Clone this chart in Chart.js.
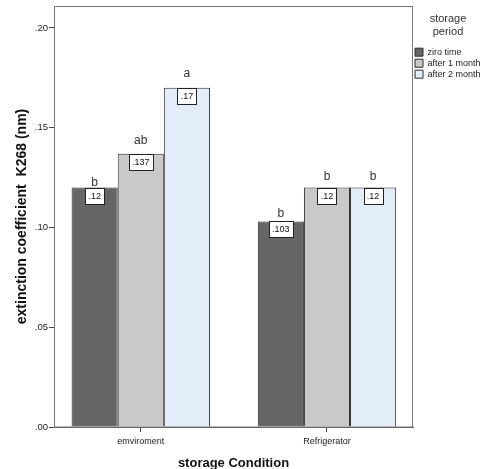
<!DOCTYPE html>
<html>
<head>
<meta charset="utf-8">
<title>storage Condition</title>
<script src="https://cdn.jsdelivr.net/npm/chart.js@4.4.1/dist/chart.umd.min.js"></script>
<style>
  html, body { margin: 0; padding: 0; background: #fff; }
  #wrap { width: 483px; height: 469px; }
</style>
</head>
<body>
<div id="wrap"><canvas id="chart" width="483" height="469"></canvas></div>
<script>
// data
const categories = ['emviroment', 'Refrigerator'];
const seriesNames = ['ziro time', 'after 1 month', 'after 2 month'];
const ziroTime = [0.12, 0.103];
const after1Month = [0.137, 0.12];
const after2Month = [0.17, 0.12];
const ziroLetters = ['b', 'b'];
const after1Letters = ['ab', 'b'];
const after2Letters = ['a', 'b'];
const yTicks = [0, 0.05, 0.10, 0.15, 0.20];

const FONT = 'Arial, "Liberation Sans", sans-serif';
const colors = ['#666666', '#c9c9c9', '#e3edf9'];
const letterSets = [ziroLetters, after1Letters, after2Letters];
// how far each letter sits above its bar (px), per series / category
const letterLift = [[2, 4], [10, 8], [11, 8]];

Chart.defaults.font.family = FONT;
Chart.defaults.color = '#222';

const dotFmt = (v) => String(v).replace(/^0/, '');

const legendWidth = {
  id: 'legendWidth',
  beforeInit(chart) {
    const fit = chart.legend.fit;
    chart.legend.fit = function () {
      fit.call(this);
      this.width = 70;
    };
  }
};

const barLabels = {
  id: 'barLabels',
  afterDatasetsDraw(chart) {
    const ctx = chart.ctx;
    ctx.save();
    chart.data.datasets.forEach((ds, di) => {
      const meta = chart.getDatasetMeta(di);
      meta.data.forEach((bar, i) => {
        const txt = dotFmt(ds.data[i].y);
        ctx.font = '9px ' + FONT;
        const w = Math.round(ctx.measureText(txt).width) + 6;
        const x0 = Math.round(bar.x - w / 2) + 0.5;
        const y0 = Math.round(bar.y) + 0.5;
        ctx.fillStyle = '#fff';
        ctx.fillRect(x0, y0, w, 16);
        ctx.strokeStyle = '#222';
        ctx.lineWidth = 1;
        ctx.strokeRect(x0, y0, w, 16);
        ctx.fillStyle = '#111';
        ctx.textAlign = 'center';
        ctx.textBaseline = 'middle';
        ctx.fillText(txt, bar.x, y0 + 8.5);

        ctx.font = '12px ' + FONT;
        ctx.fillStyle = '#333';
        ctx.textBaseline = 'alphabetic';
        ctx.fillText(letterSets[di][i], bar.x, bar.y - letterLift[di][i]);
      });
    });
    const a = chart.chartArea;
    ctx.strokeStyle = '#777';
    ctx.lineWidth = 1;
    ctx.strokeRect(a.left + 0.5, a.top + 0.5, a.right - a.left - 1, a.bottom - a.top - 0.5);
    ctx.restore();
  }
};

const series = [ziroTime, after1Month, after2Month];

new Chart(document.getElementById('chart'), {
  type: 'bar',
  data: {
    datasets: series.map((vals, si) => ({
      label: seriesNames[si],
      data: vals.map((v, i) => ({ x: i, y: v })),
      backgroundColor: colors[si],
      borderColor: '#2a2a2a',
      borderWidth: 1,
      categoryPercentage: 0.743,
      barPercentage: 1
    }))
  },
  options: {
    responsive: false,
    animation: false,
    layout: { padding: { top: 6, left: 0, right: 0, bottom: 0 } },
    scales: {
      x: {
        type: 'linear',
        min: -0.466,
        max: 1.462,
        offset: false,
        afterBuildTicks: (scale) => { scale.ticks = categories.map((c, i) => ({ value: i })); },
        afterFit: (scale) => { scale.height = 42; },
        ticks: {
          callback: (v) => categories[v],
          font: { size: 9 },
          padding: 4,
          color: '#222'
        },
        grid: { offset: false, drawOnChartArea: false, tickLength: 5, color: '#444' },
        border: { display: true, color: '#555' },
        title: {
          display: true,
          text: 'storage Condition',
          font: { size: 13, weight: 'bold', lineHeight: 1 },
          color: '#111',
          padding: { top: 0, bottom: -1 }
        }
      },
      y: {
        min: 0,
        max: 0.211,
        afterBuildTicks: (scale) => { scale.ticks = yTicks.map((v) => ({ value: v })); },
        afterFit: (scale) => { scale.width = 54; },
        ticks: {
          callback: (v) => v.toFixed(2).replace(/^0/, ''),
          font: { size: 9.5, lineHeight: 1 },
          padding: 1,
          color: '#222'
        },
        grid: { drawOnChartArea: false, tickLength: 5, color: '#444' },
        border: { display: true, color: '#666' },
        title: {
          display: true,
          text: 'extinction coefficient  K268 (nm)',
          font: { size: 14, weight: 'bold', lineHeight: 1 },
          color: '#111',
          padding: { top: 15, bottom: 0 }
        }
      }
    },
    plugins: {
      tooltip: { enabled: false },
      legend: {
        position: 'right',
        align: 'start',
        title: {
          display: true,
          text: ['storage', 'period'],
          color: '#333',
          font: { size: 11, lineHeight: 1.2 },
          padding: { top: 7.5, bottom: 19 }
        },
        labels: {
          boxWidth: 8,
          boxHeight: 8,
          padding: 2,
          color: '#222',
          font: { size: 9 }
        }
      }
    }
  },
  plugins: [legendWidth, barLabels]
});
</script>
</body>
</html>
